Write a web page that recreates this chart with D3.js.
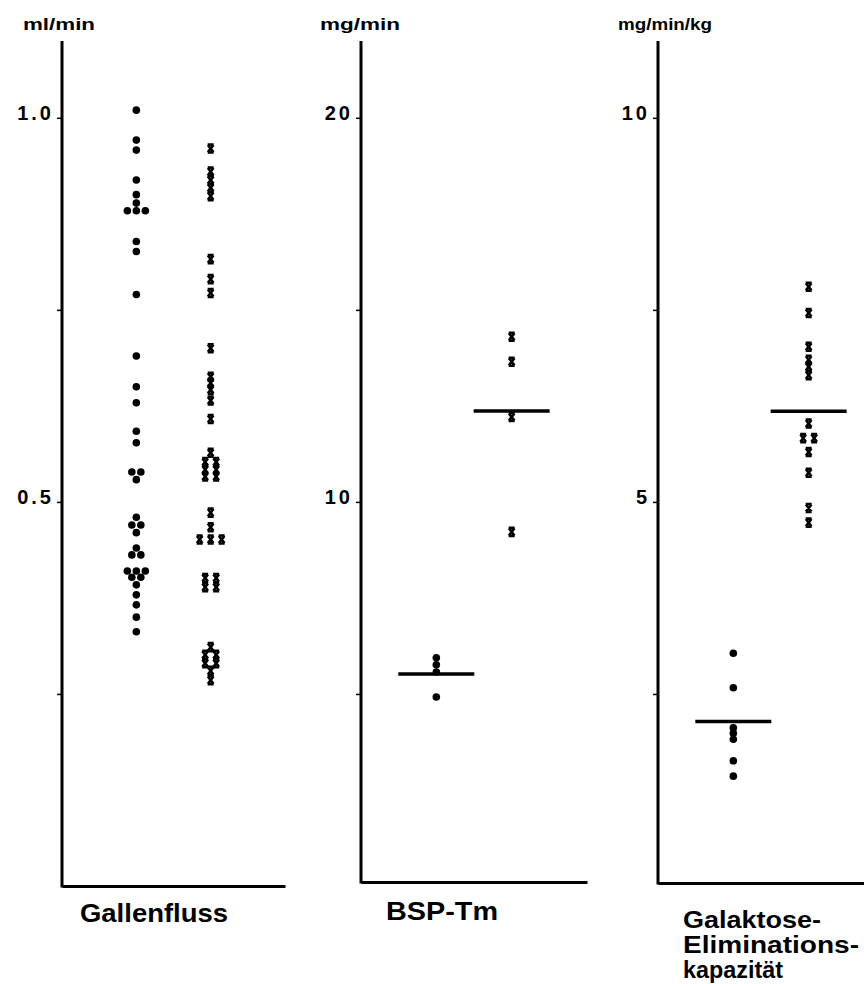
<!DOCTYPE html>
<html>
<head>
<meta charset="utf-8">
<script src="https://cdn.jsdelivr.net/npm/d3@7"></script>
<style>
  body { margin: 0; background: #fff; }
  text { font-family: "Liberation Sans", Arial, sans-serif; font-weight: bold; fill: #000; }
</style>
</head>
<body>
<svg id="chart"></svg>
<script>
// values
const unitLabels = ["ml/min", "mg/min", "mg/min/kg"];
const categoryLabels = [["Gallenfluss"], ["BSP-Tm"], ["Galaktose-", "Eliminations-", "kapazität"]];

const gallenTicks = [0.25, 0.5, 0.75, 1.0];
const gallenTickLabels = ["", "0.5", "", "1.0"];
const bspTicks = [5, 10, 15, 20];
const bspTickLabels = ["", "10", "", "20"];
const galaktTicks = [2.5, 5, 7.5, 10];
const galaktTickLabels = ["", "5", "", "10"];

// dots = first group, crosses = second group
const gallenDots = [1.01, 0.971, 0.958, 0.919, 0.900, 0.889, 0.879, 0.879, 0.879, 0.839, 0.826, 0.770,
  0.690, 0.650, 0.629, 0.592, 0.577, 0.539, 0.539, 0.529, 0.480, 0.470, 0.470, 0.460, 0.440, 0.431,
  0.431, 0.410, 0.410, 0.410, 0.402, 0.402, 0.392, 0.379, 0.366, 0.350, 0.331];
const gallenCrosses = [0.960, 0.930, 0.919, 0.909, 0.898, 0.816, 0.790, 0.772, 0.700, 0.663, 0.655,
  0.646, 0.632, 0.608, 0.564, 0.552, 0.552, 0.542, 0.542, 0.533, 0.533, 0.486, 0.467, 0.451, 0.451,
  0.451, 0.401, 0.401, 0.389, 0.389, 0.311, 0.301, 0.301, 0.290, 0.290, 0.280, 0.268];

const bspDots = [5.94, 5.76, 5.57, 4.92];
const bspCrosses = [14.30, 13.65, 12.21, 9.22];
const bspMeans = [5.52, 12.37];

const galaktDots = [3.03, 2.58, 2.06, 1.99, 1.91, 1.63, 1.43];
const galaktCrosses = [7.80, 7.46, 7.02, 6.85, 6.76, 6.65, 6.02, 5.83, 5.83, 5.65, 5.38, 4.92, 4.73];
const galaktMeans = [2.14, 6.18];

const groups = ["dots", "crosses"];

const panels = [
  { unit: unitLabels[0], cat: categoryLabels[0], top: 1.1, ticks: gallenTicks, tickLabels: gallenTickLabels,
    dots: gallenDots, crosses: gallenCrosses, means: null,
    x0: 62, w: 223, base: 886, unitX: 23, unitLen: 72, catX: 80, catY: 922, catLens: [148], catSize: 26 },
  { unit: unitLabels[1], cat: categoryLabels[1], top: 22, ticks: bspTicks, tickLabels: bspTickLabels,
    dots: bspDots, crosses: bspCrosses, means: bspMeans,
    x0: 361, w: 226, base: 882, unitX: 320, unitLen: 80, catX: 386, catY: 920, catLens: [112], catSize: 26 },
  { unit: unitLabels[2], cat: categoryLabels[2], top: 11, ticks: galaktTicks, tickLabels: galaktTickLabels,
    dots: galaktDots, crosses: galaktCrosses, means: galaktMeans,
    x0: 658, w: 226, base: 883, unitX: 618, unitLen: 94, catX: 683, catY: 928, catLens: [138, 176, 100], catSize: 23 }
];

const width = 864, height = 984;
const svg = d3.select("#chart").attr("width", width).attr("height", height);

// spread equal values side by side
function spread(values, spacing) {
  const seen = {};
  const counts = d3.rollup(values, v => v.length, d => d);
  return values.map(v => {
    const k = seen[v] = (seen[v] || 0) + 1;
    const n = counts.get(v);
    return { value: v, dx: (k - 1 - (n - 1) / 2) * spacing };
  });
}

const crossPath = "M-3,-4H3M-3,4H3M-2.8,-3.6L2.8,3.6M2.8,-3.6L-2.8,3.6";

panels.forEach(p => {
  const y = d3.scaleLinear().domain([0, p.top]).range([886, 41]);
  const x = d3.scalePoint().domain(groups).range([p.x0, p.x0 + p.w]).padding(1);
  const g = svg.append("g");

  // y axis
  const yAxis = g.append("g")
    .attr("transform", `translate(${p.x0},0)`)
    .call(d3.axisLeft(y).tickValues(p.ticks).tickSize(5).tickSizeOuter(0).tickPadding(3)
      .tickFormat((d, i) => p.tickLabels[i]));
  yAxis.select(".domain").attr("stroke", "#000").attr("stroke-width", 3).attr("d", `M0,${p.base + 1.5}V${y(p.top)}`);
  yAxis.selectAll(".tick line").attr("stroke", "#000").attr("stroke-width", 1.5);
  yAxis.selectAll(".tick text")
    .attr("dy", "0.1em")
    .style("font-family", "'Liberation Sans', Arial, sans-serif")
    .style("font-weight", "bold")
    .style("font-size", "20px")
    .style("letter-spacing", "3px");

  // x axis (plain base line)
  const xAxis = g.append("g")
    .attr("transform", `translate(0,${p.base})`)
    .call(d3.axisBottom(x).tickValues([]).tickSizeOuter(0));
  xAxis.select(".domain").attr("stroke", "#000").attr("stroke-width", 3);

  // dots
  g.selectAll(".dot").data(spread(p.dots, 9)).enter()
    .append("circle")
    .attr("class", "dot")
    .attr("cx", d => x("dots") + d.dx)
    .attr("cy", d => y(d.value))
    .attr("r", 3.8)
    .attr("fill", "#000");

  // crosses
  g.selectAll(".cross").data(spread(p.crosses, 11)).enter()
    .append("path")
    .attr("class", "cross")
    .attr("d", crossPath)
    .attr("transform", d => `translate(${x("crosses") + d.dx},${y(d.value)})`)
    .attr("fill", "none")
    .attr("stroke", "#000")
    .attr("stroke-width", 2.6);

  // mean bars
  if (p.means) {
    g.selectAll(".mean").data(p.means).enter()
      .append("line")
      .attr("class", "mean")
      .attr("x1", (d, i) => x(groups[i]) - 38)
      .attr("x2", (d, i) => x(groups[i]) + 38)
      .attr("y1", d => y(d))
      .attr("y2", d => y(d))
      .attr("stroke", "#000")
      .attr("stroke-width", 3.5);
  }

  // unit label
  g.append("text")
    .attr("x", p.unitX).attr("y", 30)
    .attr("textLength", p.unitLen).attr("lengthAdjust", "spacingAndGlyphs")
    .style("font-size", "16px")
    .text(p.unit);

  // category label
  p.cat.forEach((line, i) => {
    g.append("text")
      .attr("x", p.catX).attr("y", p.catY + i * 25)
      .attr("textLength", p.catLens[i]).attr("lengthAdjust", "spacingAndGlyphs")
      .style("font-size", p.catSize + "px")
      .text(line);
  });
});
</script>
</body>
</html>
